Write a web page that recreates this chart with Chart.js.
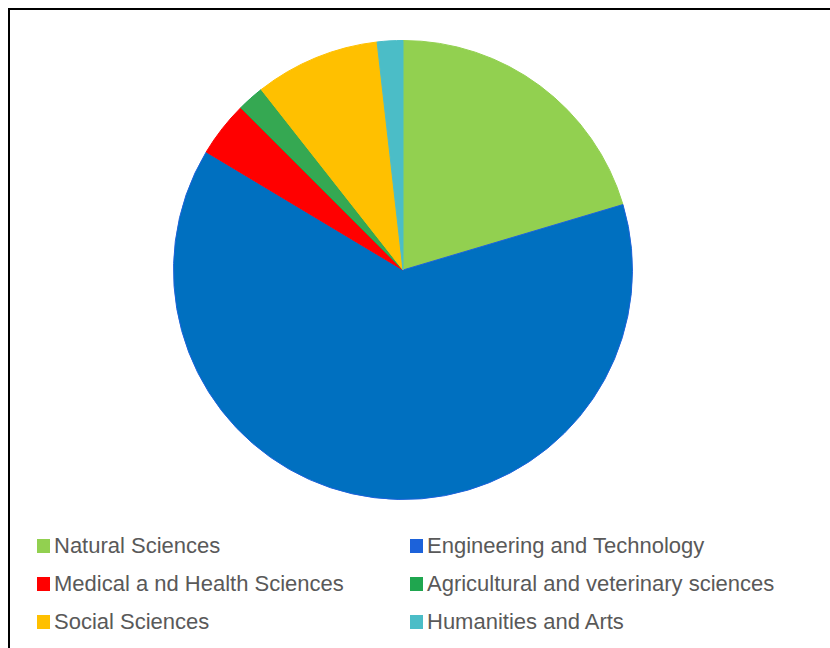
<!DOCTYPE html>
<html>
<head>
<meta charset="utf-8">
<script src="https://cdn.jsdelivr.net/npm/chart.js@4/dist/chart.umd.min.js"></script>
<style>
  html, body { margin: 0; padding: 0; background: #fff; width: 830px; height: 648px; overflow: hidden; }
  .frame {
    position: absolute; left: 8px; top: 8px; width: 900px; height: 700px;
    border-left: 2px solid #000; border-top: 2px solid #000;
  }
  .pie-box { position: absolute; left: 163px; top: 30px; width: 480px; height: 480px; }
  #legend {
    position: absolute; left: 37px; top: 527px; margin: 0; padding: 0; list-style: none;
    display: grid; grid-template-columns: 373px auto; grid-auto-rows: 38px;
    font-family: "Liberation Sans", Arial, sans-serif; font-size: 22px; color: #595959;
  }
  #legend li { display: flex; align-items: center; white-space: pre; }
  #legend .sw { width: 13px; height: 14px; margin-right: 4px; flex: none; }
</style>
</head>
<body>
<div class="frame"></div>
<div class="pie-box"><canvas id="pieChart"></canvas></div>
<ul id="legend"></ul>
<script>
// share of postdocs by field, percent
const fields = [
    'Natural Sciences',
    'Engineering and Technology',
    'Medical a nd Health Sciences',
    'Agricultural and veterinary sciences',
    'Social Sciences',
    'Humanities and Arts'
];
const shares = [20.4, 63.2, 3.9, 1.9, 8.8, 1.8];
const fillColors = ['#92D050', '#0070C0', '#FF0000', '#35A852', '#FFC000', '#4BBDC7'];
const edgeColors = ['#92D050', '#1C62DA', '#FF0000', '#1FA64F', '#FFC000', '#4BBDC7'];

const ctx = document.getElementById('pieChart').getContext('2d');
const chart = new Chart(ctx, {
    type: 'pie',
    data: {
        labels: fields,
        datasets: [{
            data: shares,
            backgroundColor: fillColors,
            borderColor: edgeColors,
            borderWidth: 1
        }]
    },
    options: {
        responsive: true,
        maintainAspectRatio: false,
        animation: false,
        layout: { padding: 10 },
        plugins: {
            legend: { display: false },
            tooltip: { enabled: false }
        }
    }
});

// two-column legend under the pie
const items = Chart.overrides.pie.plugins.legend.labels.generateLabels(chart);
const list = document.getElementById('legend');
items.forEach(item => {
    const li = document.createElement('li');
    const sw = document.createElement('span');
    sw.className = 'sw';
    sw.style.background = item.strokeStyle;
    li.appendChild(sw);
    li.appendChild(document.createTextNode(item.text));
    list.appendChild(li);
});
</script>
</body>
</html>
